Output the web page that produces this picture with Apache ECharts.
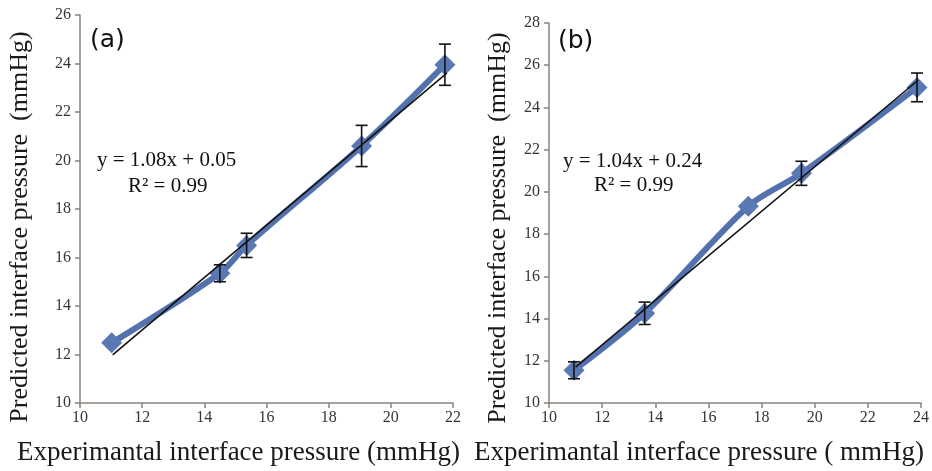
<!DOCTYPE html>
<html>
<head>
<meta charset="utf-8">
<script src="https://cdn.jsdelivr.net/npm/echarts@6/dist/echarts.min.js"></script>
<style>html,body{margin:0;padding:0;background:#fff}#c{width:932px;height:471px}</style>
</head>
<body>
<div id="c"></div>
<script>
// Panel (a)
var aExp = [11.02, 14.5, 15.36, 19.06, 21.74];
var aPred = [12.48, 15.35, 16.5, 20.6, 23.95];
var aErr = [0, 0.35, 0.5, 0.85, 0.85];
var aFitX = [11.05, 21.8];
var aFitY = [11.98, 23.6];
var aXTicks = [10, 12, 14, 16, 18, 20, 22];
var aYTicks = [10, 12, 14, 16, 18, 20, 22, 24, 26];
// Panel (b)
var bExp = [10.94, 13.6, 17.5, 19.5, 23.85];
var bPred = [11.55, 14.25, 19.32, 20.88, 24.95];
var bErr = [0.4, 0.53, 0, 0.57, 0.68];
var bFitX = [11.0, 23.9];
var bFitY = [11.7, 25.3];
var bXTicks = [10, 12, 14, 16, 18, 20, 22, 24];
var bYTicks = [10, 12, 14, 16, 18, 20, 22, 24, 26, 28];

var xName = 'Experimantal interface pressure (mmHg)';
var xNameB = 'Experimantal interface pressure ( mmHg)';
var yName = 'Predicted interface pressure  (mmHg)';

function pairs(xs, ys) { return xs.map(function (x, i) { return [x, ys[i]]; }); }
function errs(xs, ys, es) { return xs.map(function (x, i) { return [x, ys[i] - es[i], ys[i] + es[i]]; }); }

var serif = '"Liberation Serif", "Times New Roman", serif';
var axisCol = '#8a827d';
var labCol = '#3b3333';
var blue = '#5372ad';

function xAxis(idx, ticks, name, padRight) {
  return {
    type: 'value', gridIndex: idx,
    min: ticks[0], max: ticks[ticks.length - 1], interval: 2,
    name: name, nameLocation: 'middle', nameGap: 36,
    nameTextStyle: { fontFamily: serif, fontSize: 27, color: '#1a1a1a', padding: [0, padRight, 0, 0] },
    axisLine: { show: true, lineStyle: { color: axisCol, width: 1.5 } },
    axisTick: { show: true, inside: false, length: 5, lineStyle: { color: axisCol, width: 1.5 } },
    axisLabel: { fontFamily: serif, fontSize: 16, color: labCol, margin: 7 },
    splitLine: { show: false }
  };
}
function yAxis(idx, ticks, gap, padShift) {
  return {
    type: 'value', gridIndex: idx,
    min: ticks[0], max: ticks[ticks.length - 1], interval: 2,
    name: yName, nameLocation: 'middle', nameGap: gap, nameRotate: 90,
    nameTextStyle: { fontFamily: serif, fontSize: 26, color: '#1a1a1a', padding: [0, padShift, 0, 0] },
    axisLine: { show: true, lineStyle: { color: axisCol, width: 1.5 } },
    axisTick: { show: true, inside: false, length: 5, lineStyle: { color: axisCol, width: 1.5 } },
    axisLabel: { fontFamily: serif, fontSize: 16, color: labCol, margin: 9 },
    splitLine: { show: false }
  };
}

function errSeries(idx, data) {
  return {
    type: 'custom', xAxisIndex: idx, yAxisIndex: idx, z: 5,
    data: data,
    renderItem: function (params, api) {
      var x = api.value(0);
      if (api.value(1) === api.value(2)) { return { type: 'group', children: [] }; }
      var lo = api.coord([x, api.value(1)]);
      var hi = api.coord([x, api.value(2)]);
      var w = 6;
      var st = { stroke: '#111', lineWidth: 1.6 };
      return {
        type: 'group',
        children: [
          { type: 'line', shape: { x1: lo[0], y1: lo[1], x2: hi[0], y2: hi[1] }, style: st },
          { type: 'line', shape: { x1: lo[0] - w, y1: lo[1], x2: lo[0] + w, y2: lo[1] }, style: st },
          { type: 'line', shape: { x1: hi[0] - w, y1: hi[1], x2: hi[0] + w, y2: hi[1] }, style: st }
        ]
      };
    }
  };
}
function dataSeries(idx, data) {
  return {
    type: 'line', xAxisIndex: idx, yAxisIndex: idx, z: 3,
    data: data, smooth: 0.3,
    symbol: 'diamond', symbolSize: 21,
    lineStyle: { color: blue, width: 6 },
    itemStyle: { color: '#5a78b3', borderWidth: 0 },
    emphasis: { disabled: true }
  };
}
function fitSeries(idx, data) {
  return {
    type: 'line', xAxisIndex: idx, yAxisIndex: idx, z: 4,
    data: data, symbol: 'none',
    lineStyle: { color: '#111', width: 1.6 },
    emphasis: { disabled: true }
  };
}

var chart = echarts.init(document.getElementById('c'), null, { renderer: 'canvas' });
chart.setOption({
  backgroundColor: '#fff',
  animation: false,
  grid: [
    { left: 80, top: 15, width: 373, height: 388 },
    { left: 549, top: 23, width: 376, height: 381 }
  ],
  xAxis: [xAxis(0, aXTicks, xName, 56), xAxis(1, bXTicks, xNameB, 72)],
  yAxis: [yAxis(0, aYTicks, 47, 36), yAxis(1, bYTicks, 38, 30)],
  series: [
    dataSeries(0, pairs(aExp, aPred)),
    fitSeries(0, pairs(aFitX, aFitY)),
    errSeries(0, errs(aExp, aPred, aErr)),
    dataSeries(1, pairs(bExp, bPred)),
    fitSeries(1, pairs(bFitX, bFitY)),
    errSeries(1, errs(bExp, bPred, bErr))
  ],
  graphic: [
    { type: 'text', left: 90, top: 28, style: { text: '(a)', font: '25px "DejaVu Sans", sans-serif', fill: '#111' } },
    { type: 'text', left: 558, top: 29, style: { text: '(b)', font: '25px "DejaVu Sans", sans-serif', fill: '#111' } },
    { type: 'text', left: 97, top: 150, style: { text: 'y = 1.08x + 0.05', font: '21px "Liberation Serif", serif', fill: '#111' } },
    { type: 'text', left: 128, top: 176, style: { text: 'R² = 0.99', font: '21px "Liberation Serif", serif', fill: '#111' } },
    { type: 'text', left: 563, top: 151, style: { text: 'y = 1.04x + 0.24', font: '21px "Liberation Serif", serif', fill: '#111' } },
    { type: 'text', left: 594, top: 175, style: { text: 'R² = 0.99', font: '21px "Liberation Serif", serif', fill: '#111' } }
  ]
});
</script>
</body>
</html>
